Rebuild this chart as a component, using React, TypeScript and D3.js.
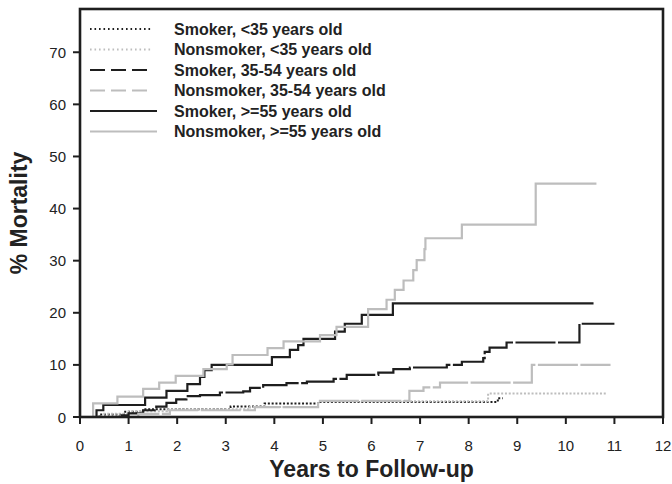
import React from "react";
import * as d3 from "d3";

const xTicks = [0, 1, 2, 3, 4, 5, 6, 7, 8, 9, 10, 11, 12];
const yTicks = [0, 10, 20, 30, 40, 50, 60, 70];

const legendLabels = [
  "Smoker, <35 years old",
  "Nonsmoker, <35 years old",
  "Smoker, 35-54 years old",
  "Nonsmoker, 35-54 years old",
  "Smoker, >=55 years old",
  "Nonsmoker, >=55 years old",
];

// [years, % mortality] step points; last point = end of follow-up
const smokerUnder35: [number, number][] = [
  [0, 0], [0.4, 0.5], [0.9, 1.0], [1.3, 1.5], [3.1, 2.0], [3.8, 2.6], [4.9, 2.9], [8.6, 3.6], [8.7, 3.6],
];
const nonsmokerUnder35: [number, number][] = [
  [0, 0], [0.5, 0.6], [1.0, 1.1], [1.8, 1.5], [3.5, 1.9], [4.9, 3.0], [8.4, 4.5], [10.83, 4.5],
];
const smoker3554: [number, number][] = [
  [0, 0], [0.8, 0.3], [1.0, 0.7], [1.3, 1.3], [1.57, 2.0], [1.78, 2.7], [1.98, 3.4], [2.19, 4.0],
  [2.47, 4.2], [2.88, 4.7], [3.36, 4.9], [3.5, 5.6], [3.77, 6.1], [4.25, 6.5], [4.67, 6.8],
  [5.22, 7.3], [5.49, 8.1], [6.14, 8.5], [6.45, 9.2], [6.79, 9.5], [7.55, 10.0], [7.86, 10.6],
  [8.3, 11.3], [8.33, 12.5], [8.43, 13.3], [8.78, 14.3], [10.28, 17.9], [11.0, 17.9],
];
const nonsmoker3554: [number, number][] = [
  [0, 0], [1.2, 0.6], [1.85, 1.3], [3.6, 1.9], [4.9, 3.1], [6.78, 5.0], [7.07, 5.7],
  [7.41, 6.6], [9.3, 10.0], [10.92, 10.0],
];
const smokerOver55: [number, number][] = [
  [0, 0], [0.34, 1.3], [0.48, 2.3], [1.34, 3.7], [1.78, 5.0], [2.21, 6.3], [2.47, 7.7],
  [2.56, 9.0], [2.71, 10.0], [3.95, 11.5], [4.32, 12.9], [4.49, 13.8], [4.6, 15.0],
  [5.25, 16.4], [5.45, 17.9], [5.8, 19.6], [6.44, 21.8], [10.57, 21.8],
];
const nonsmokerOver55: [number, number][] = [
  [0, 0], [0.27, 2.6], [0.77, 3.9], [1.3, 5.4], [1.63, 6.6], [1.97, 7.9], [2.54, 9.2],
  [3.02, 10.1], [3.14, 11.9], [3.86, 13.2], [4.19, 14.5], [4.94, 15.7], [5.28, 17.3],
  [5.93, 20.7], [6.31, 22.5], [6.48, 24.4], [6.66, 26.2], [6.86, 28.2], [6.93, 30.1],
  [7.09, 32.2], [7.11, 34.3], [7.86, 36.9], [9.38, 44.8], [10.63, 44.8],
];

const seriesData = [smokerUnder35, nonsmokerUnder35, smoker3554, nonsmoker3554, smokerOver55, nonsmokerOver55];

const BLACK = "#1e1e1e";
const GRAY = "#bdbdbd";
const styles = [
  { color: BLACK, dash: "2,1.8", w: 2 },
  { color: GRAY, dash: "2,1.8", w: 2 },
  { color: BLACK, dash: "40,2.5", w: 2.2 },
  { color: GRAY, dash: "40,2.5", w: 2.2 },
  { color: BLACK, dash: "none", w: 2.2 },
  { color: GRAY, dash: "none", w: 2.2 },
];
const legendDash = ["1.6,2.9", "1.6,2.9", "15,6", "15,6", "none", "none"];
const legendEnd = [153, 153, 147, 147, 157, 157];

export default function App() {
  const W = 672, H = 484;
  const left = 80, right = 663, top = 9, bottom = 417;
  const x = d3.scaleLinear().domain([0, 12]).range([left, right]);
  const y = d3.scaleLinear().domain([0, 78.3]).range([bottom, top]);
  const line = d3.line<[number, number]>().x(d => x(d[0])).y(d => y(d[1])).curve(d3.curveStepAfter);
  const font = "'Liberation Sans', Arial, sans-serif";

  return (
    <svg width={W} height={H} style={{ position: "absolute", left: 0, top: 0, background: "#fff" }} fontFamily={font}>
      <rect x={0} y={0} width={W} height={H} fill="#fff" />
      {seriesData.map((s, i) => (
        <path key={i} d={line(s) || ""} fill="none" stroke={styles[i].color}
          strokeWidth={styles[i].w} strokeDasharray={styles[i].dash} />
      ))}
      {/* frame */}
      <rect x={left} y={top} width={right - left} height={bottom - top} fill="none" stroke={BLACK} strokeWidth={2.6} />
      {xTicks.map(t => (
        <g key={"x" + t}>
          <line x1={x(t)} x2={x(t)} y1={bottom} y2={bottom + 7} stroke={BLACK} strokeWidth={2} />
          <text x={x(t)} y={451} textAnchor="middle" fontSize={15} fill="#222">{t}</text>
        </g>
      ))}
      {yTicks.map(t => (
        <g key={"y" + t}>
          <line x1={left - 7} x2={left} y1={y(t)} y2={y(t)} stroke={BLACK} strokeWidth={2} />
          <text x={66} y={y(t) + 5.5} textAnchor="end" fontSize={15} fill="#222">{t}</text>
        </g>
      ))}
      <text x={(left + right) / 2} y={477} textAnchor="middle" fontSize={23} fontWeight="bold" fill="#222">Years to Follow-up</text>
      <text transform={`translate(27,${(top + bottom) / 2}) rotate(-90)`} textAnchor="middle" fontSize={23} fontWeight="bold" fill="#222">% Mortality</text>
      {legendLabels.map((l, i) => {
        const cy = 29 + i * 20.5;
        return (
          <g key={l}>
            <line x1={90} x2={legendEnd[i]} y1={cy} y2={cy} stroke={styles[i].color} strokeWidth={2}
              strokeDasharray={legendDash[i]} />
            <text x={174} y={cy + 5.8} fontSize={16} fontWeight="bold" fill="#222">{l}</text>
          </g>
        );
      })}
    </svg>
  );
}
